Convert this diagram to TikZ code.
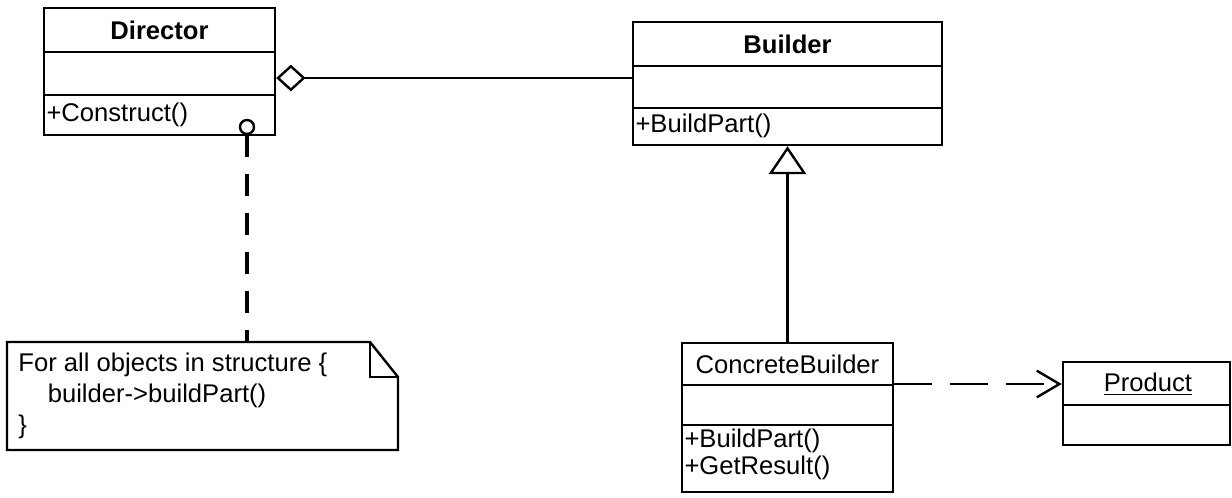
\documentclass[tikz,border=0pt]{standalone}
\usepackage{fontspec}
\setmainfont{Liberation Sans}
\usetikzlibrary{arrows.meta}

\tikzset{every picture/.style={line width=0.75pt}}

\begin{document}
\begin{tikzpicture}[x=0.75pt,y=0.75pt,yscale=-1,xscale=1,
  classbox/.style={draw, rectangle, line width=1.8pt, inner sep=0pt},
  classline/.style={line width=1.8pt},
  umltext/.style={inner sep=0.75pt, font=\fontsize{19.2}{23.5}\selectfont},
  aggr/.style={line width=1.8pt, {Diamond[open,length=22pt,width=20pt]}-},
  gen/.style={line width=1.8pt, -{Triangle[open,length=21pt,width=28pt]}},
  dep/.style={line width=1.8pt, dash pattern={on 28.5pt off 13.5pt}, -{Straight Barb[length=17pt,width=20pt]}},
  notelink/.style={line width=2.4pt, dash pattern={on 16.5pt off 12.75pt}},
  noteline/.style={line width=1.8pt, line join=miter}]
\useasboundingbox (0,0) rectangle (1232,497);

%Class Director
\node [classbox, minimum width=173.25pt, minimum height=95.25pt] (director) at (159.5,71.5) {};
\draw [classline] (44,52) -- (275,52) ;
\draw [classline] (44,95) -- (275,95) ;
%Class Builder
\node [classbox, minimum width=231.75pt, minimum height=92.25pt] (builder) at (787.5,83.5) {};
\draw [classline] (633,66) -- (942,66) ;
\draw [classline] (633,108) -- (942,108) ;
%Class ConcreteBuilder
\node [classbox, minimum width=158.25pt, minimum height=111.75pt] (cbuilder) at (787.5,417.5) {};
\draw [classline] (682,385) -- (893,385) ;
\draw [classline] (682,425) -- (893,425) ;
%Class Product
\node [classbox, minimum width=125.25pt, minimum height=62.25pt] (product) at (1146.5,403.5) {};
\draw [classline] (1063,405) -- (1230,405) ;

%Note
\draw [noteline] (7,342) -- (370,342) -- (398,377) -- (398,450) -- (7,450) -- cycle ;
\draw [noteline] (370,342) -- (370,377) -- (398,377) ;
\coordinate (notetop) at (0,342);

%Lollipop on Construct()
\node [circle, draw, line width=1.8pt, minimum size=10.5pt, inner sep=0pt] (hook) at (247,127) {};

%Straight Lines
\coordinate (aggy) at (0,78);
\draw [aggr] (director.east |- aggy) -- (builder.west |- aggy) ;
%Straight Lines
\draw [gen] (cbuilder.north) -- (builder.south) ;
%Straight Lines
\coordinate (depy) at (0,384);
\draw [dep] (cbuilder.east |- depy) -- (product.west |- depy) ;
%Straight Lines
\draw [notelink] (hook.south) -- (hook.south |- notetop) ;

% Text Node
\node [umltext] (dirname) at (159.5,30) {\bfseries Director};
% Text Node
\node [umltext, anchor=west] (dirop) at (45,115) {+Construct()};
% Text Node
\node [umltext] (bldname) at (787.5,44) {\bfseries Builder};
% Text Node
\node [umltext, anchor=west] (bldop) at (634,126) {+BuildPart()};
% Text Node
\node [umltext] (cbname) at (787.5,364) {ConcreteBuilder};
% Text Node
\node [umltext, anchor=west] (cbop1) at (683,441) {+BuildPart()};
% Text Node
\node [umltext, anchor=west] (cbop2) at (683,468) {+GetResult()};
% Text Node
\node [umltext] (prodname) at (1148,384) {\underline{Product}};
% Text Node
\node [umltext, anchor=north west, align=left] (notetxt) at (17,351) {For all objects in structure \{\\\hspace{22pt}builder->buildPart()\\\}};

\end{tikzpicture}
\end{document}
